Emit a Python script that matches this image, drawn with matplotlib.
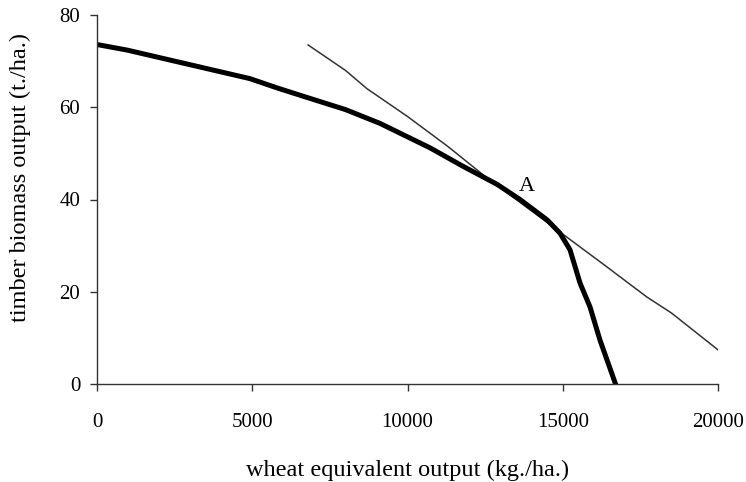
import numpy as np
import matplotlib
matplotlib.use('Agg')
import matplotlib.pyplot as plt

# production possibility frontier (thick curve)
wheat = [0, 966, 2500, 4928, 5797, 6634, 8000, 9114, 10725, 11787, 12882, 13623, 14493, 14911, 15233, 15556, 15878, 16200, 16700]
timber = [73.6, 72.4, 70.0, 66.2, 64.2, 62.4, 59.5, 56.5, 51.2, 47.2, 43.3, 40.0, 35.6, 32.7, 29.1, 21.9, 16.7, 9.5, 0.0]

# tangent (price) line
line_x = [6800, 8000, 8700, 10000, 11300, 12500, 14900, 16400, 17700, 18500, 20000]
line_y = [73.5, 68.0, 64.0, 58.0, 51.5, 45.0, 33.0, 25.5, 18.9, 15.4, 7.4]

plt.rcParams['font.family'] = 'Liberation Serif'
plt.rcParams['font.size'] = 15

fig = plt.figure(figsize=(7.46, 4.82), dpi=100)
ax = fig.add_axes([97/746, 1-384/482, 621/746, 369/482])

ax.plot(line_x, line_y, color='#333333', linewidth=1.1)
ax.plot(wheat, timber, color='black', linewidth=3.6, solid_joinstyle='round')
ax.text(13850, 42.9, 'A', ha='center', va='center', fontsize=16)

ax.set_xlim(0, 20000)
ax.set_ylim(0, 80)
ax.set_xticks([0, 5000, 10000, 15000, 20000])
ax.set_yticks([0, 20, 40, 60, 80])
for s in ['top', 'right']:
    ax.spines[s].set_visible(False)
for s in ['left', 'bottom']:
    ax.spines[s].set_color('#333333')
    ax.spines[s].set_linewidth(1.0)
ax.tick_params(axis='both', direction='out', length=5, width=1.0, color='#333333')
ax.tick_params(axis='x', pad=16)
ax.tick_params(axis='y', pad=7)
ax.set_xlabel('wheat equivalent output (kg./ha.)', fontsize=17.5, labelpad=20)
fig.text(20/746, 1-177/482, 'timber biomass output (t./ha.)', rotation=90,
         ha='center', va='center', fontsize=17.5)

fig.savefig('out.png', dpi=100)
